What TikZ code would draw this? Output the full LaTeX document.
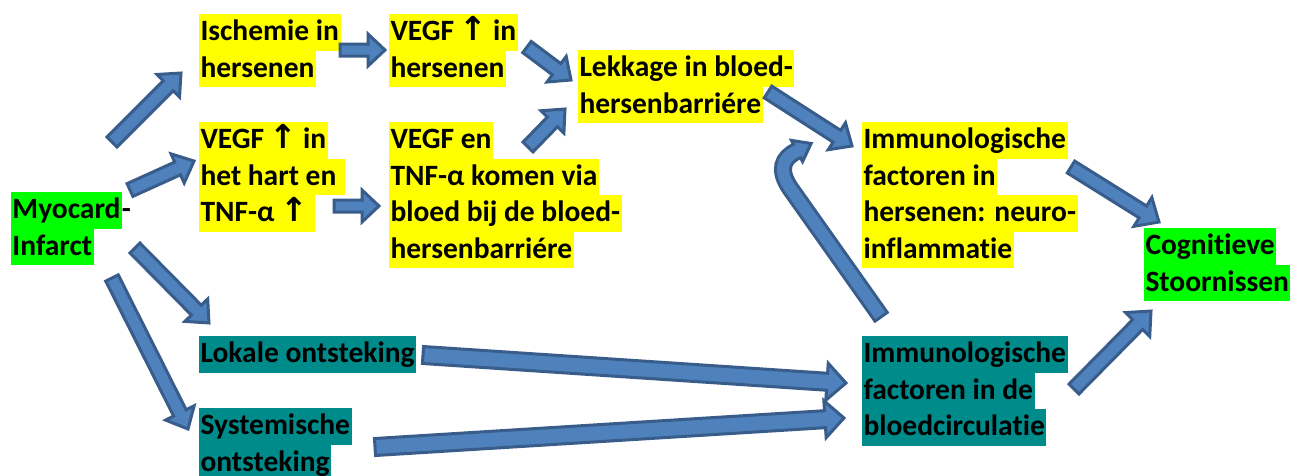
\documentclass[tikz,border=0pt]{standalone}
\usepackage{fontspec}
\setmainfont{Carlito}[Ligatures={NoCommon,NoContextual}]
\newfontfamily\arrfont{DejaVu Sans}
\usetikzlibrary{calc}
\definecolor{hlyellow}{RGB}{255,255,0}
\definecolor{hlgreen}{RGB}{0,255,0}
\definecolor{hlteal}{RGB}{0,139,139}
\definecolor{arrfill}{RGB}{79,129,189}
\definecolor{arrline}{RGB}{56,93,138}
\setlength{\fboxsep}{0pt}
\newcommand\hlline[2]{\colorbox{#1}{\rule[-10pt]{0pt}{36.5pt}\hspace{1.5pt}#2\hspace{1.5pt}}}
\newcommand\hly[1]{\hlline{hlyellow}{#1}}
\newcommand\hlg[1]{\hlline{hlgreen}{#1}}
\newcommand\hlt[1]{\hlline{hlteal}{#1}}
\newcommand\up{{\arrfont\bfseries\fontsize{33}{36.5}\selectfont\kern-1pt↑\kern-1pt}}
\newdimen\badx \newdimen\bady
\newcommand\blockarrow[5]{%
  \pgfextractx{\badx}{\pgfpointdiff{\pgfpointanchor{#1}{center}}{\pgfpointanchor{#2}{center}}}%
  \pgfextracty{\bady}{\pgfpointdiff{\pgfpointanchor{#1}{center}}{\pgfpointanchor{#2}{center}}}%
  \pgfmathsetmacro\balen{veclen(\the\badx,\the\bady)}%
  \pgfmathsetmacro\baang{atan2(\the\bady,\the\badx)}%
  \begin{scope}[shift={(#1)}, rotate=\baang]
    \draw[blockarr] (0,-#3) -- ({\balen-#5},-#3) -- ({\balen-#5},-#4) -- (\balen,0)
      -- ({\balen-#5},#4) -- ({\balen-#5},#3) -- (0,#3) -- cycle;
  \end{scope}}
\begin{document}
\begin{tikzpicture}[x=1pt,y=-1pt,
  txt/.style={anchor=north west, inner sep=0pt, outer sep=0pt, align=left,
    font=\fontsize{29.5}{36.5}\selectfont\bfseries},
  blockarr/.style={draw=arrline, fill=arrfill, line width=3pt, line join=miter, miter limit=10}]
\useasboundingbox (0,0) rectangle (1290,475);
\fill[white] (0,0) rectangle (1290,475);

% nodes
\node[txt] (myo) at (11,192) {\hlg{Myocard}-\\ \hlg{Infarct}};
\node[txt] (isch) at (199,14) {\hly{Ischemie in}\\ \hly{hersenen}};
\node[txt] (vegfh) at (389,14) {\hly{VEGF \up{} in}\\ \hly{hersenen}};
\node[txt] (vegfhart) at (199,122) {\hly{VEGF \up{} in}\\ \hly{het hart en\ }\\ \hly{TNF-α \up\ }};
\node[txt] (lek) at (578,50) {\hly{Lekkage in bloed-}\\ \hly{hersenbarriére}};
\node[txt] (vtnf) at (389,122) {\hly{VEGF en}\\ \hly{TNF-α komen via}\\ \hly{bloed bij de bloed-}\\ \hly{hersenbarriére}};
\node[txt] (imh) at (862,122) {\hly{Immunologische}\\ \hly{factoren in}\\ \hly{hersenen: neuro-}\\ \hly{inflammatie}};
\node[txt] (cog) at (1144,228) {\hlg{Cognitieve}\\ \hlg{Stoornissen}};
\node[txt] (lok) at (199,336) {\hlt{Lokale ontsteking}};
\node[txt] (sys) at (199,408) {\hlt{Systemische}\\ \hlt{ontsteking}};
\node[txt] (imb) at (862,336) {\hlt{Immunologische}\\ \hlt{factoren in de}\\ \hlt{bloedcirculatie}};

% arrow end points
\coordinate (a1s) at (112,142); \coordinate (a1e) at (181,73);
\coordinate (a2s) at (130,190); \coordinate (a2e) at (194,161);
\coordinate (a3s) at (340,50);  \coordinate (a3e) at (385,50);
\coordinate (a4s) at (334,206); \coordinate (a4e) at (379,206);
\coordinate (a5s) at (527,47);  \coordinate (a5e) at (571,80);
\coordinate (a6s) at (528,147); \coordinate (a6e) at (565,109);
\coordinate (a7s) at (768,92);  \coordinate (a7e) at (852,146);
\coordinate (a9s) at (1071,167); \coordinate (a9e) at (1159,222);
\coordinate (a10s) at (1074,389); \coordinate (a10e) at (1151,311);
\coordinate (a11s) at (135,248); \coordinate (a11e) at (209,323);
\coordinate (a12s) at (112,278); \coordinate (a12e) at (188,429);
\coordinate (a13s) at (423,355); \coordinate (a13e) at (846,383);
\coordinate (a14s) at (375,447); \coordinate (a14e) at (844,418);

\blockarrow{a1s}{a1e}{7}{16}{18}
\blockarrow{a2s}{a2e}{7}{16}{18}
\blockarrow{a3s}{a3e}{6}{16}{17}
\blockarrow{a4s}{a4e}{6}{16}{17}
\blockarrow{a5s}{a5e}{7}{16}{18}
\blockarrow{a6s}{a6e}{7}{16}{18}
\blockarrow{a7s}{a7e}{7}{16}{18}
\blockarrow{a9s}{a9e}{7}{17}{19}
\blockarrow{a10s}{a10e}{7}{17}{19}
\blockarrow{a11s}{a11e}{7}{16}{18}
\blockarrow{a12s}{a12e}{7}{16}{18}
\blockarrow{a13s}{a13e}{8.5}{18.5}{19}
\blockarrow{a14s}{a14e}{8.5}{18.5}{19}

% curved arrow from blood factors up to brain factors
\coordinate (c8s) at (882,318);
\coordinate (c8q) at (790,188);
\coordinate (c8c1) at (778,170);
\coordinate (c8c2) at (782,158);
\coordinate (c8b) at (797,151);
\coordinate (c8x) at (800.5,149.1);
\coordinate (c8h1) at (802.6,161.6);
\coordinate (c8h2) at (791.4,140.4);
\coordinate (c8t) at (811.1,143.5);
\draw[arrline, line width=18pt] (c8s) -- (c8q) .. controls (c8c1) and (c8c2) .. (c8b);
\draw[blockarr] (c8h1) -- (c8t) -- (c8h2) -- cycle;
\draw[arrfill, line width=12pt, shorten <=3pt] (c8s) -- (c8q) .. controls (c8c1) and (c8c2) .. (c8b) -- (c8x);
\end{tikzpicture}
\end{document}
